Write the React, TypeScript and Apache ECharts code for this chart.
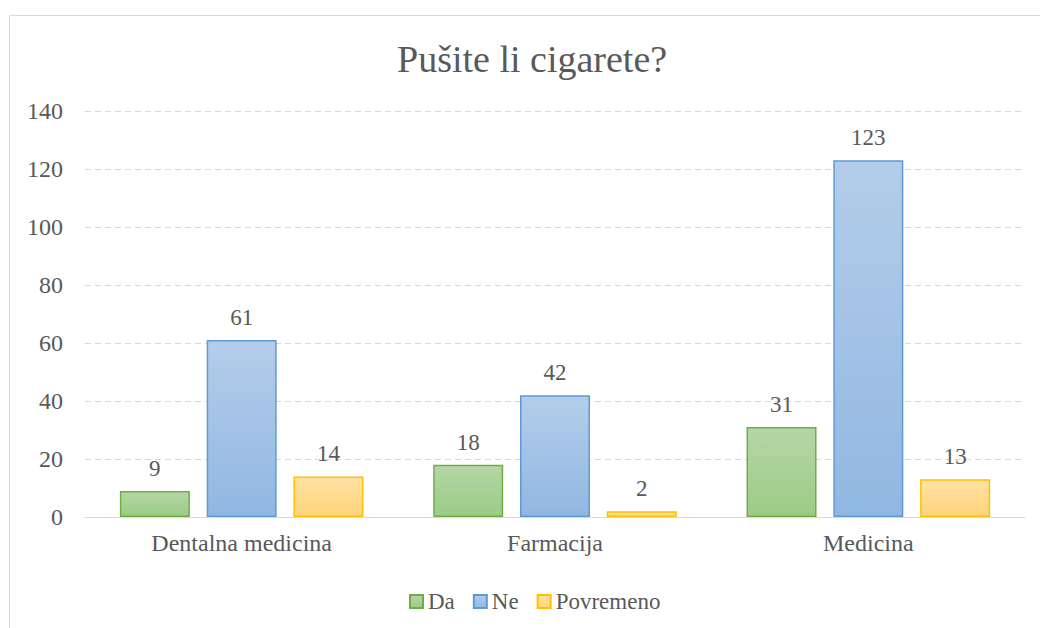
import React, { useEffect, useRef } from "react";
import * as echarts from "echarts";

const categories = ["Dentalna medicina", "Farmacija", "Medicina"];
const seriesNames = ["Da", "Ne", "Povremeno"];
const daValues = [9, 18, 31];
const neValues = [61, 42, 123];
const povremenoValues = [14, 2, 13];
const yTicks = { min: 0, max: 140, interval: 20 };
const titleText = "Pušite li cigarete?";

const FONT = "Times New Roman, Liberation Serif, DejaVu Serif, serif";
const TEXT = "#595959";

function grad(top: string, bottom: string) {
  return new echarts.graphic.LinearGradient(0, 0, 0, 1, [
    { offset: 0, color: top },
    { offset: 1, color: bottom },
  ]);
}

export default function App() {
  const ref = useRef<HTMLDivElement>(null);
  useEffect(() => {
    if (!ref.current) return;
    const chart = echarts.init(ref.current, null, { renderer: "svg" });
    const styles = [
      { fill: grad("#b5d6a7", "#9ccb86"), border: "#70ad47" },
      { fill: grad("#b4cdea", "#91b7e2"), border: "#5b9bd5" },
      { fill: grad("#ffe2a3", "#ffd47c"), border: "#ffc000" },
    ];
    const values = [daValues, neValues, povremenoValues];
    chart.setOption({
      animation: false,
      backgroundColor: "#ffffff",
      textStyle: { fontFamily: FONT },
      graphic: [
        {
          type: "rect",
          shape: { x: 9.5, y: 15.5, width: 1200, height: 800 },
          style: { fill: "none", stroke: "#d9d9d9", lineWidth: 1 },
          silent: true,
        },
      ],
      title: {
        text: titleText,
        left: 392,
        top: 35,
        textStyle: { fontFamily: FONT, fontSize: 38, fontWeight: "normal", color: TEXT },
      },
      legend: {
        data: seriesNames,
        left: 404,
        top: 585,
        icon: "rect",
        itemWidth: 13,
        itemHeight: 13,
        itemGap: 18,
        textStyle: { fontFamily: FONT, fontSize: 23, color: TEXT },
      },
      grid: { left: 85, right: 15, top: 111, bottom: 111, containLabel: false },
      xAxis: {
        type: "category",
        data: categories,
        axisLine: { lineStyle: { color: "#d9d9d9", width: 1 } },
        axisTick: { show: false },
        axisLabel: { fontFamily: FONT, fontSize: 24, color: TEXT, margin: 14 },
      },
      yAxis: {
        type: "value",
        min: yTicks.min,
        max: yTicks.max,
        interval: yTicks.interval,
        axisLine: { show: false },
        axisTick: { show: false },
        axisLabel: { fontFamily: FONT, fontSize: 24, color: TEXT, margin: 22 },
        splitLine: { lineStyle: { color: "#d9d9d9", type: [6, 4], width: 1 } },
      },
      series: seriesNames.map((name, i) => ({
        name,
        type: "bar",
        data: values[i],
        barWidth: 70,
        barGap: "24%",
        itemStyle: {
          color: styles[i].fill,
          borderColor: styles[i].border,
          borderWidth: 1.5,
        },
        label: {
          show: true,
          position: "top",
          distance: 11,
          fontFamily: FONT,
          fontSize: 23,
          color: TEXT,
        },
      })),
    });
    return () => chart.dispose();
  }, []);
  return (
    <div
      ref={ref}
      style={{ position: "absolute", left: 0, top: 0, width: 1040, height: 628 }}
    />
  );
}
